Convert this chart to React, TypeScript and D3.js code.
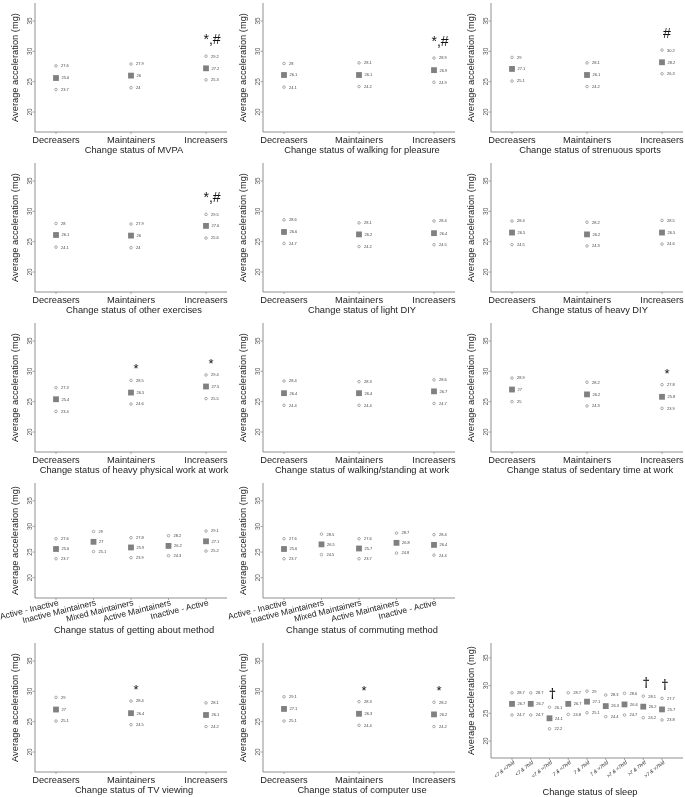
import React from "react";
import * as d3 from "d3";

const CAT3 = ["Decreasers", "Maintainers", "Increasers"];
const CAT5 = ["Active - Inactive", "Inactive Maintainers", "Mixed Maintainers", "Active Maintainers", "Inactive - Active"];
const SLEEP_CATS = ["<7 & <7h/d", "<7 & 7h/d", "<7 & >7h/d", "7 & <7h/d", "7 & 7h/d", "7 & >7h/d", ">7 & <7h/d", ">7 & 7h/d", ">7 & >7h/d"];
const Y_TICKS = [20, 25, 30, 35];

const mvpaUpper = [27.6, 27.9, 29.2];
const mvpaMean = [25.6, 26, 27.2];
const mvpaLower = [23.7, 24, 25.3];
const mvpaSig = ["", "", "*,#"];

const walkUpper = [28, 28.1, 28.9];
const walkMean = [26.1, 26.1, 26.9];
const walkLower = [24.1, 24.2, 24.9];
const walkSig = ["", "", "*,#"];

const sportUpper = [29, 28.1, 30.2];
const sportMean = [27.1, 26.1, 28.2];
const sportLower = [25.1, 24.2, 26.3];
const sportSig = ["", "", "#"];

const otherUpper = [28, 27.9, 29.5];
const otherMean = [26.1, 26, 27.6];
const otherLower = [24.1, 24, 25.6];
const otherSig = ["", "", "*,#"];

const lightUpper = [28.6, 28.1, 28.4];
const lightMean = [26.6, 26.2, 26.4];
const lightLower = [24.7, 24.2, 24.5];
const lightSig = ["", "", ""];

const heavyUpper = [28.4, 28.2, 28.5];
const heavyMean = [26.5, 26.2, 26.5];
const heavyLower = [24.5, 24.3, 24.6];
const heavySig = ["", "", ""];

const physUpper = [27.3, 28.5, 29.4];
const physMean = [25.4, 26.5, 27.5];
const physLower = [23.4, 24.6, 25.5];
const physSig = ["", "*", "*"];

const standUpper = [28.4, 28.3, 28.6];
const standMean = [26.4, 26.4, 26.7];
const standLower = [24.4, 24.4, 24.7];
const standSig = ["", "", ""];

const sedUpper = [28.9, 28.2, 27.8];
const sedMean = [27, 26.2, 25.8];
const sedLower = [25, 24.3, 23.9];
const sedSig = ["", "", "*"];

const aboutUpper = [27.6, 29, 27.8, 28.2, 29.1];
const aboutMean = [25.6, 27, 25.9, 26.2, 27.1];
const aboutLower = [23.7, 25.1, 23.9, 24.3, 25.2];
const aboutSig = ["", "", "", "", ""];

const commUpper = [27.6, 28.5, 27.6, 28.7, 28.4];
const commMean = [25.6, 26.5, 25.7, 26.8, 26.4];
const commLower = [23.7, 24.5, 23.7, 24.8, 24.4];
const commSig = ["", "", "", "", ""];

const tvUpper = [29, 28.4, 28.1];
const tvMean = [27, 26.4, 26.1];
const tvLower = [25.1, 24.5, 24.2];
const tvSig = ["", "*", ""];

const pcUpper = [29.1, 28.3, 28.2];
const pcMean = [27.1, 26.3, 26.2];
const pcLower = [25.1, 24.4, 24.2];
const pcSig = ["", "*", "*"];

const sleepUpper = [28.7, 28.7, 26.1, 28.7, 29, 28.3, 28.6, 28.1, 27.7];
const sleepMean = [26.7, 26.7, 24.1, 26.7, 27.1, 26.3, 26.6, 26.2, 25.7];
const sleepLower = [24.7, 24.7, 22.2, 24.8, 25.1, 24.4, 24.7, 24.2, 23.8];
const sleepSig = ["", "", "\u2020", "", "", "", "", "\u2020", "\u2020"];

type Panel = {
  title: string; cats: string[]; upper: number[]; mean: number[]; lower: number[]; sig: string[];
  col: number; row: number; kind: "A" | "B" | "S";
};

const PANELS: Panel[] = [
  { title: "Change status of MVPA", cats: CAT3, upper: mvpaUpper, mean: mvpaMean, lower: mvpaLower, sig: mvpaSig, col: 0, row: 0, kind: "A" },
  { title: "Change status of walking for pleasure", cats: CAT3, upper: walkUpper, mean: walkMean, lower: walkLower, sig: walkSig, col: 1, row: 0, kind: "A" },
  { title: "Change status of strenuous sports", cats: CAT3, upper: sportUpper, mean: sportMean, lower: sportLower, sig: sportSig, col: 2, row: 0, kind: "A" },
  { title: "Change status of other exercises", cats: CAT3, upper: otherUpper, mean: otherMean, lower: otherLower, sig: otherSig, col: 0, row: 1, kind: "A" },
  { title: "Change status of light DIY", cats: CAT3, upper: lightUpper, mean: lightMean, lower: lightLower, sig: lightSig, col: 1, row: 1, kind: "A" },
  { title: "Change status of heavy DIY", cats: CAT3, upper: heavyUpper, mean: heavyMean, lower: heavyLower, sig: heavySig, col: 2, row: 1, kind: "A" },
  { title: "Change status of heavy physical work at work", cats: CAT3, upper: physUpper, mean: physMean, lower: physLower, sig: physSig, col: 0, row: 2, kind: "A" },
  { title: "Change status of walking/standing at work", cats: CAT3, upper: standUpper, mean: standMean, lower: standLower, sig: standSig, col: 1, row: 2, kind: "A" },
  { title: "Change status of sedentary time at work", cats: CAT3, upper: sedUpper, mean: sedMean, lower: sedLower, sig: sedSig, col: 2, row: 2, kind: "A" },
  { title: "Change status of getting about method", cats: CAT5, upper: aboutUpper, mean: aboutMean, lower: aboutLower, sig: aboutSig, col: 0, row: 3, kind: "B" },
  { title: "Change status of commuting method", cats: CAT5, upper: commUpper, mean: commMean, lower: commLower, sig: commSig, col: 1, row: 3, kind: "B" },
  { title: "Change status of TV viewing", cats: CAT3, upper: tvUpper, mean: tvMean, lower: tvLower, sig: tvSig, col: 0, row: 4, kind: "A" },
  { title: "Change status of computer use", cats: CAT3, upper: pcUpper, mean: pcMean, lower: pcLower, sig: pcSig, col: 1, row: 4, kind: "A" },
  { title: "Change status of sleep", cats: SLEEP_CATS, upper: sleepUpper, mean: sleepMean, lower: sleepLower, sig: sleepSig, col: 2, row: 4, kind: "S" },
];

const GEOM = {
  A: { y20: 112, y35: 21, axisY: 132, titleY: 152.5 },
  B: { y20: 97.7, y35: 20.8, axisY: 118, titleY: 153 },
  S: { y20: 101, y35: 17.9, axisY: 118, titleY: 155 },
};

const FONT = "'Liberation Sans', Arial, Helvetica, sans-serif";
const AXIS = "#8f8f8f";

function sigBaseline(s: string, uy: number) {
  if (s === "*") return uy - 7;
  if (s === "\u2020") return uy - 9;
  return uy - 12;
}

function sigDx(s: string) {
  if (s === "*,#") return 6;
  if (s === "\u2020") return 3;
  return 5;
}

function PanelView({ p }: { p: Panel }) {
  const g = GEOM[p.kind];
  const y = d3.scaleLinear().domain([20, 35]).range([g.y20, g.y35]);
  const x = d3.scalePoint<string>().domain(p.cats).range([56, 206]);
  const left = 35, right = 227, top = 3;
  return (
    <g transform={`translate(${p.col * 228},${p.row * 160})`}>
      <line x1={left} x2={left} y1={top} y2={g.axisY} stroke={AXIS} strokeWidth={1} />
      <line x1={left} x2={right} y1={g.axisY} y2={g.axisY} stroke={AXIS} strokeWidth={1} />
      {Y_TICKS.map((t) => (
        <g key={t}>
          <line x1={left - 2.5} x2={left} y1={y(t)} y2={y(t)} stroke={AXIS} strokeWidth={0.8} />
          <text transform={`translate(31.5,${y(t)}) rotate(-90)`} textAnchor="middle" fontSize={6.5} fill="#555" fontFamily={FONT}>{t}</text>
        </g>
      ))}
      <text transform={`translate(18,${(top + g.axisY) / 2}) rotate(-90)`} textAnchor="middle" fontSize={9.3} fill="#222" fontFamily={FONT}>Average acceleration (mg)</text>
      {p.cats.map((c, i) => {
        const cx = x(c) as number;
        const uy = y(p.upper[i]), my = y(p.mean[i]), ly = y(p.lower[i]);
        const s = p.sig[i];
        return (
          <g key={c}>
            <line x1={cx} x2={cx} y1={g.axisY} y2={g.axisY + 2} stroke={AXIS} strokeWidth={0.8} />
            <circle cx={cx} cy={uy} r={1.3} fill="#fff" stroke="#777" strokeWidth={0.6} />
            <circle cx={cx} cy={ly} r={1.3} fill="#fff" stroke="#777" strokeWidth={0.6} />
            <rect x={cx - 2.9} y={my - 2.9} width={5.8} height={5.8} fill="#808080" />
            <text x={cx + 5} y={uy + 1.4} fontSize={4} fill="#444" fontFamily={FONT}>{String(p.upper[i])}</text>
            <text x={cx + 5.5} y={my + 1.4} fontSize={4} fill="#444" fontFamily={FONT}>{String(p.mean[i])}</text>
            <text x={cx + 5} y={ly + 1.4} fontSize={4} fill="#444" fontFamily={FONT}>{String(p.lower[i])}</text>
            {s ? (
              <text x={cx + sigDx(s)} y={sigBaseline(s, uy)} textAnchor="middle"
                fontSize={s === "\u2020" ? 12 : s === "*" ? 13 : 14}
                fontWeight={s === "\u2020" ? "bold" : "normal"}
                fill="#111" fontFamily={s === "\u2020" ? "'DejaVu Serif', 'Liberation Serif', serif" : FONT}>{s}</text>
            ) : null}
            {p.kind === "A" ? (
              <text x={cx} y={143.3} textAnchor="middle" fontSize={9.3} fill="#222" fontFamily={FONT}>{c}</text>
            ) : p.kind === "B" ? (
              <text transform={`translate(${cx + 3},${g.axisY + 7}) rotate(-14)`} textAnchor="end" fontSize={8.5} fill="#222" fontFamily={FONT}>{c}</text>
            ) : (
              <text transform={`translate(${cx + 3},${g.axisY + 5}) rotate(-38)`} textAnchor="end" fontSize={5} fontStyle="italic" fill="#222" fontFamily={FONT}>{c}</text>
            )}
          </g>
        );
      })}
      <text x={(left + right) / 2 + 3} y={g.titleY} textAnchor="middle" fontSize={9.3} fill="#222" fontFamily={FONT}>{p.title}</text>
    </g>
  );
}

export default function App() {
  return (
    <svg width={685} height={797} style={{ position: "absolute", left: 0, top: 0, background: "#fff" }}>
      <defs>
        <filter id="gray" x={0} y={0} width={685} height={797} filterUnits="userSpaceOnUse">
          <feColorMatrix type="saturate" values="0" />
        </filter>
      </defs>
      <rect width={685} height={797} fill="#fff" />
      <g filter="url(#gray)">
        <rect width={685} height={797} fill="#fff" />
        {PANELS.map((p) => <PanelView key={p.title} p={p} />)}
      </g>
    </svg>
  );
}
